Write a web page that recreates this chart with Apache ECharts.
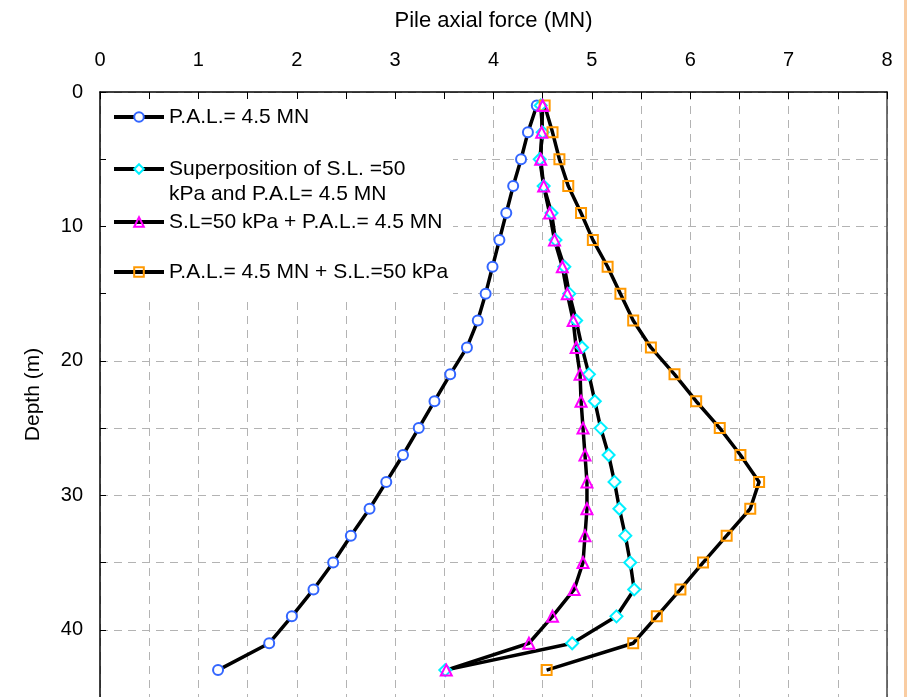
<!DOCTYPE html>
<html>
<head>
<meta charset="utf-8">
<script src="https://cdn.jsdelivr.net/npm/echarts@6/dist/echarts.min.js"></script>
<style>
  html, body { margin: 0; padding: 0; background: #fff; }
  #chart { width: 908px; height: 697px; }
</style>
</head>
<body>
<div id="chart"></div>
<script>
// Depth of each measurement point along the pile (m)
const depths = [1, 3, 5, 7, 9, 11, 13, 15, 17, 19, 21, 23, 25, 27, 29, 31, 33, 35, 37, 39, 41, 43];

// Pile axial force (MN) for each loading case
const pal = [4.44, 4.35, 4.28, 4.20, 4.13, 4.06, 3.99, 3.92, 3.84, 3.73, 3.56, 3.40, 3.24, 3.08, 2.91, 2.74, 2.55, 2.37, 2.17, 1.95, 1.72, 1.20];
const superposition = [4.48, 4.50, 4.47, 4.51, 4.59, 4.63, 4.72, 4.77, 4.84, 4.90, 4.97, 5.03, 5.09, 5.17, 5.23, 5.28, 5.34, 5.39, 5.43, 5.25, 4.80, 3.51];
const slThenPal = [4.50, 4.49, 4.48, 4.51, 4.57, 4.62, 4.70, 4.75, 4.81, 4.84, 4.88, 4.89, 4.91, 4.93, 4.95, 4.95, 4.93, 4.91, 4.82, 4.60, 4.36, 3.52];
const palThenSl = [4.52, 4.60, 4.67, 4.76, 4.89, 5.01, 5.16, 5.29, 5.42, 5.60, 5.84, 6.06, 6.30, 6.51, 6.70, 6.61, 6.37, 6.13, 5.90, 5.66, 5.42, 4.54];

const seriesNames = [
  'P.A.L.= 4.5 MN',
  'Superposition of S.L. =50 kPa and P.A.L= 4.5 MN',
  'S.L=50 kPa + P.A.L.= 4.5 MN',
  'P.A.L.= 4.5 MN + S.L.=50 kPa'
];
// the long legend entry wraps onto a second line
const wrapLine1 = 'Superposition of S.L. =50';
const wrapLine2 = 'kPa and P.A.L= 4.5 MN';

const FONT = '"Liberation Sans", Arial, sans-serif';
const LEGEND_SIZE = 21;

function pairs(values) {
  return values.map((v, i) => [v, depths[i]]);
}

function lineSeries(name, values, symbol, size, fill, stroke) {
  return {
    name: name,
    type: 'line',
    data: pairs(values),
    symbol: symbol,
    symbolSize: size,
    showAllSymbol: true,
    lineStyle: { color: '#000', width: 3.5 },
    itemStyle: { color: fill, borderColor: stroke, borderWidth: 2 },
    emphasis: { disabled: true },
    animation: false,
    z: 3
  };
}

function legendAt(name, centerY, label) {
  return {
    data: [name],
    left: 112,
    top: centerY - 13,
    padding: 0,
    itemWidth: 50,
    itemHeight: 12,
    itemGap: 6,
    selectedMode: false,
    lineStyle: { color: '#000', width: 4 },
    formatter: () => label,
    textStyle: {
      fontFamily: FONT,
      fontSize: LEGEND_SIZE,
      color: '#000',
      lineHeight: 26
    }
  };
}

const chart = echarts.init(document.getElementById('chart'), null, { renderer: 'canvas' });

chart.setOption({
  backgroundColor: '#fff',
  animation: false,
  grid: { left: 100, right: 21, top: 92, bottom: 0, containLabel: false },
  legend: [
    legendAt(seriesNames[0], 117, seriesNames[0]),
    legendAt(seriesNames[1], 169, wrapLine1),
    legendAt(seriesNames[2], 222, seriesNames[2]),
    legendAt(seriesNames[3], 272, seriesNames[3])
  ],
  xAxis: {
    type: 'value',
    position: 'top',
    min: 0,
    max: 8,
    interval: 0.5,
    name: 'Pile axial force (MN)',
    nameLocation: 'middle',
    nameGap: 60,
    nameTextStyle: { fontFamily: FONT, fontSize: 22, color: '#000' },
    axisLine: { show: true, lineStyle: { color: '#000', width: 1.5 } },
    axisTick: { show: true, inside: true, length: 7, lineStyle: { color: '#000', width: 1 } },
    axisLabel: {
      fontFamily: FONT, fontSize: 20, color: '#000', margin: 22,
      formatter: v => (Math.abs(v - Math.round(v)) < 1e-9 ? String(Math.round(v)) : '')
    },
    splitLine: { show: true, lineStyle: { color: '#b3b3b3', width: 1, type: [8, 6] } }
  },
  yAxis: [
    {
      type: 'value',
      inverse: true,
      min: 0,
      max: 45,
      interval: 5,
      name: 'Depth (m)',
      nameLocation: 'middle',
      nameGap: 56,
      nameRotate: 90,
      nameTextStyle: { fontFamily: FONT, fontSize: 21, color: '#000' },
      axisLine: { show: true, lineStyle: { color: '#000', width: 1.5 } },
      axisTick: { show: true, inside: true, length: 6, lineStyle: { color: '#000', width: 1 } },
      axisLabel: {
        fontFamily: FONT, fontSize: 20, color: '#000', margin: 17,
        formatter: v => (v % 10 === 0 ? String(v) : '')
      },
      splitLine: { show: true, lineStyle: { color: '#b3b3b3', width: 1, type: [8, 6] } }
    },
    {
      type: 'value',
      position: 'right',
      inverse: true,
      min: 0,
      max: 45,
      interval: 5,
      axisLine: { show: true, lineStyle: { color: '#444', width: 1.5 } },
      axisTick: { show: false },
      axisLabel: { show: false },
      splitLine: { show: false }
    }
  ],
  graphic: [
    {
      // white panel behind the legend
      type: 'rect',
      z: 1,
      silent: true,
      shape: { x: 106, y: 99, width: 347, height: 201 },
      style: { fill: '#fff' }
    },
    {
      type: 'text',
      z: 5,
      silent: true,
      x: 169,
      y: 194,
      style: {
        text: wrapLine2,
        font: LEGEND_SIZE + 'px ' + FONT,
        fill: '#000',
        verticalAlign: 'middle'
      }
    },
    {
      type: 'rect',
      z: 1,
      silent: true,
      shape: { x: 904, y: 0, width: 3, height: 697 },
      style: { fill: '#f9cda3' }
    }
  ],
  series: [
    lineSeries(seriesNames[0], pal, 'circle', 10, '#fff', '#3366ff'),
    lineSeries(seriesNames[1], superposition, 'diamond', 12, '#fff', '#00f0ff'),
    lineSeries(seriesNames[3], palThenSl, 'rect', 10, 'rgba(255,255,255,0)', '#ff9900'),
    lineSeries(seriesNames[2], slThenPal, 'triangle', 11, 'rgba(255,255,255,0)', '#ff00ff')
  ]
});
</script>
</body>
</html>
